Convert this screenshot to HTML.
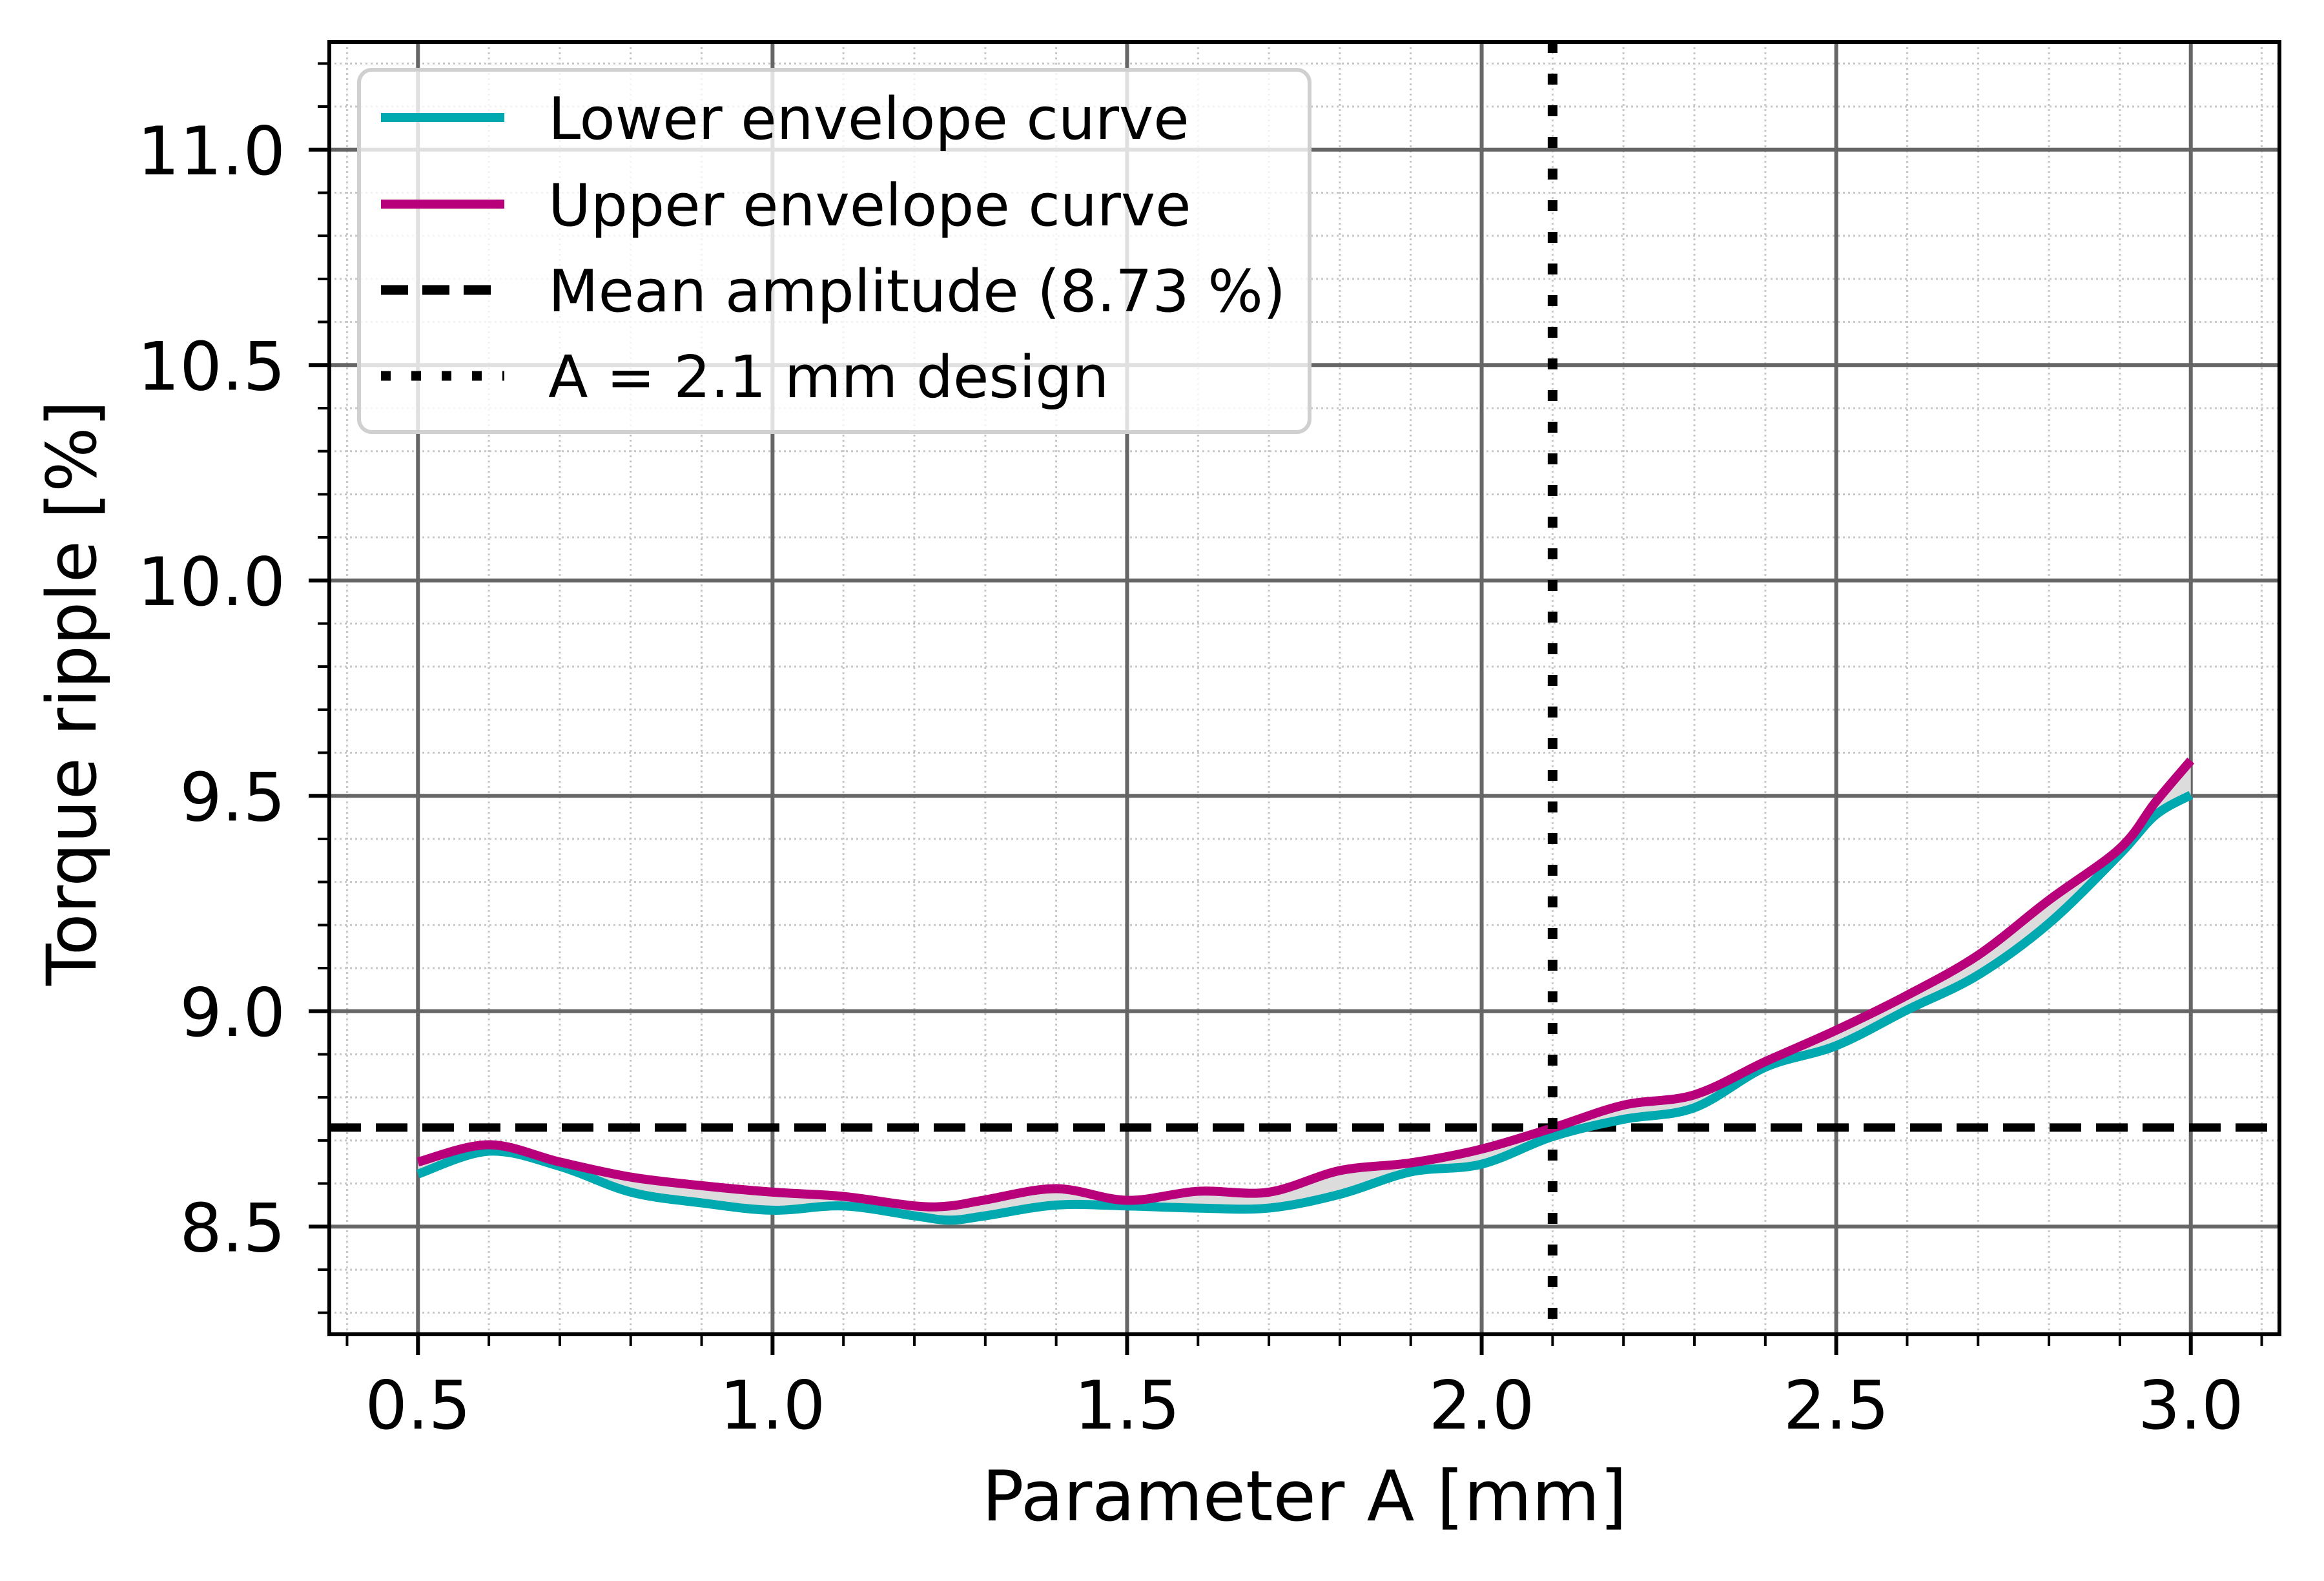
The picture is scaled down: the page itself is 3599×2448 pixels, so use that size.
<!DOCTYPE html>
<html><head><meta charset="utf-8"><style>
html,body{margin:0;padding:0;background:#fff;}
svg text{font-family:"DejaVu Sans","Liberation Sans",sans-serif;fill:#000;}
</style></head>
<body>
<svg id="chart" xmlns="http://www.w3.org/2000/svg" width="3599" height="2443" viewBox="0 0 3599 2443">
<rect width="3599" height="2443" fill="#fff"/>
<g id="grid"></g>
<g id="plot"></g>
<g id="axes"></g>
<g id="legend"></g>
</svg>
<script>
const xValues = [0.5,0.6,0.7,0.8,0.9,1.0,1.1,1.2,1.25,1.3,1.4,1.5,1.6,1.7,1.8,1.9,2.0,2.1,2.2,2.3,2.4,2.5,2.6,2.7,2.8,2.9,2.95,3.0];
const lowerValues = [8.622,8.675,8.64,8.58,8.555,8.538,8.548,8.525,8.515,8.525,8.55,8.548,8.543,8.543,8.575,8.627,8.645,8.709,8.749,8.776,8.87,8.92,9.003,9.084,9.204,9.365,9.455,9.502];
const upperValues = [8.65,8.69,8.65,8.615,8.595,8.58,8.57,8.548,8.548,8.562,8.588,8.561,8.582,8.58,8.63,8.648,8.68,8.729,8.782,8.806,8.883,8.956,9.037,9.13,9.258,9.378,9.485,9.582];
const meanValue = 8.73;
const designA = 2.1;
const xTicks = [0.5,1.0,1.5,2.0,2.5,3.0];
const xTickLabels = ["0.5","1.0","1.5","2.0","2.5","3.0"];
const yTicks = [8.5,9.0,9.5,10.0,10.5,11.0];
const yTickLabels = ["8.5","9.0","9.5","10.0","10.5","11.0"];
const xMinor = [0.4,0.6,0.7,0.8,0.9,1.1,1.2,1.3,1.4,1.6,1.7,1.8,1.9,2.1,2.2,2.3,2.4,2.6,2.7,2.8,2.9,3.1];
const yMinor = [8.3,8.4,8.6,8.7,8.8,8.9,9.1,9.2,9.3,9.4,9.6,9.7,9.8,9.9,10.1,10.2,10.3,10.4,10.6,10.7,10.8,10.9,11.1,11.2];
const legendLabels = ["Lower envelope curve","Upper envelope curve","Mean amplitude (8.73 %)","A = 2.1 mm design"];

const L=510,R=3530,T=65,B=2066, X0=0.375,X1=3.125, Y0=8.25,Y1=11.25;
const sx=v=>L+(v-X0)/(X1-X0)*(R-L);
const sy=v=>B-(v-Y0)/(Y1-Y0)*(B-T);
const NS="http://www.w3.org/2000/svg";
function mk(tag,attrs,parent){const e=document.createElementNS(NS,tag);for(const k in attrs)e.setAttribute(k,attrs[k]);parent.appendChild(e);return e;}
const grid=document.getElementById('grid'),plot=document.getElementById('plot'),axes=document.getElementById('axes'),legend=document.getElementById('legend');

xMinor.forEach(v=>{const e=mk('line',{x1:sx(v),x2:sx(v),y1:T,y2:B,stroke:'#c8c8c8','stroke-width':3,'stroke-dasharray':'3 5'},grid);

});
yMinor.forEach(v=>{const e=mk('line',{x1:L,x2:R,y1:sy(v),y2:sy(v),stroke:'#c8c8c8','stroke-width':3,'stroke-dasharray':'3 5'},grid);

});
xTicks.forEach(v=>{const e=mk('line',{x1:sx(v),x2:sx(v),y1:T,y2:B,stroke:'#666','stroke-width':6},grid);

});
yTicks.forEach(v=>{const e=mk('line',{x1:L,x2:R,y1:sy(v),y2:sy(v),stroke:'#666','stroke-width':6},grid);

});

function pts(ys){return xValues.map((x,i)=>[sx(x),sy(ys[i])]);}
function smooth(p){let d='M'+p[0][0]+','+p[0][1];for(let i=0;i<p.length-1;i++){const p0=p[i-1]||p[i],p1=p[i],p2=p[i+1],p3=p[i+2]||p2;
const c1=[p1[0]+(p2[0]-p0[0])/6,p1[1]+(p2[1]-p0[1])/6],c2=[p2[0]-(p3[0]-p1[0])/6,p2[1]-(p3[1]-p1[1])/6];
d+=' C'+c1[0]+','+c1[1]+' '+c2[0]+','+c2[1]+' '+p2[0]+','+p2[1];}return d;}
function smoothRev(p){const r=p.slice().reverse();return smooth(r).replace(/^M/,'L');}
const lp=pts(lowerValues),up=pts(upperValues);
const fill=mk('path',{d:smooth(up)+' '+smoothRev(lp)+' Z',fill:'#dcdcdc',stroke:'none'},plot);


const meanLine=mk('line',{x1:L,x2:R,y1:sy(meanValue),y2:sy(meanValue),stroke:'#000','stroke-width':13,'stroke-dasharray':'49 23'},plot);


const lower=mk('path',{d:smooth(lp),fill:'none',stroke:'#00a8b0','stroke-width':14,'stroke-linejoin':'round'},plot);


const upper=mk('path',{d:smooth(up),fill:'none',stroke:'#b8007a','stroke-width':14,'stroke-linejoin':'round'},plot);


const design=mk('line',{x1:sx(designA),x2:sx(designA),y1:T,y2:B,stroke:'#000','stroke-width':15,'stroke-dasharray':'17 32'},plot);



xTicks.forEach((v,i)=>{const t=mk('line',{x1:sx(v),x2:sx(v),y1:B,y2:B+32,stroke:'#000','stroke-width':6},axes);


const tx=mk('text',{x:sx(v),y:2212,'font-size':103,'text-anchor':'middle'},axes);tx.textContent=xTickLabels[i];

});
xMinor.forEach(v=>{const t=mk('line',{x1:sx(v),x2:sx(v),y1:B,y2:B+18,stroke:'#000','stroke-width':4},axes);

});
yTicks.forEach((v,i)=>{const t=mk('line',{x1:L-32,x2:L,y1:sy(v),y2:sy(v),stroke:'#000','stroke-width':6},axes);


const tx=mk('text',{x:442,y:sy(v)+38,'font-size':103,'text-anchor':'end'},axes);tx.textContent=yTickLabels[i];

});
yMinor.forEach(v=>{const t=mk('line',{x1:L-18,x2:L,y1:sy(v),y2:sy(v),stroke:'#000','stroke-width':4},axes);

});
const frame=mk('rect',{x:L,y:T,width:R-L,height:B-T,fill:'none',stroke:'#000','stroke-width':6},axes);


const xl=mk('text',{x:(L+R)/2,y:2354,'font-size':108,'text-anchor':'middle'},axes);xl.textContent='Parameter A [mm]';


const yl=mk('text',{x:148,y:1073,'font-size':106,'text-anchor':'middle',transform:'rotate(-90 148 1073)'},axes);yl.textContent='Torque ripple [%]';



const box=mk('rect',{x:556,y:108,width:1472,height:561,rx:20,fill:'#fff','fill-opacity':0.8,stroke:'#d0d0d0','stroke-width':6},legend);


const rowY=[182,316,449,582];
const styles=[{stroke:'#00a8b0',da:''},{stroke:'#b8007a',da:''},{stroke:'#000',da:'42 22'},{stroke:'#000',da:'15 32'}];
legendLabels.forEach((lab,i)=>{const g=mk('g',{},legend);


const a={x1:590,x2:781,y1:rowY[i],y2:rowY[i],stroke:styles[i].stroke,'stroke-width':i<2?14:15};if(styles[i].da)a['stroke-dasharray']=styles[i].da;
mk('line',a,g);
const t=mk('text',{x:849,y:rowY[i]+33,'font-size':90},g);t.textContent=lab;});
</script>
</body></html>
